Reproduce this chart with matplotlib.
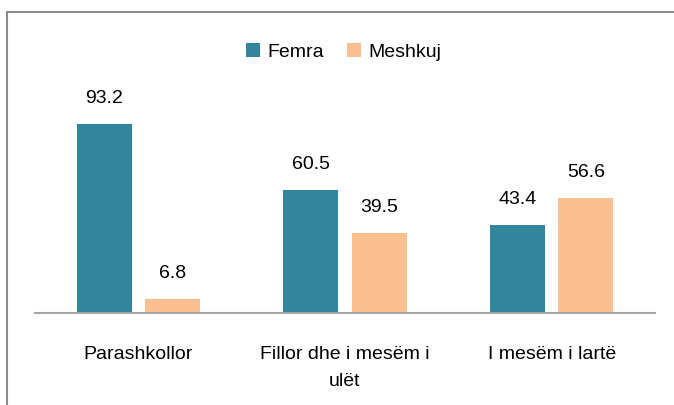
import numpy as np
import matplotlib
matplotlib.use('Agg')
import matplotlib.pyplot as plt
from matplotlib.lines import Line2D

plt.rcParams['font.family'] = ['Liberation Sans', 'DejaVu Sans']

categories = ['Parashkollor', 'Fillor dhe i mesëm i\nulët', 'I mesëm i lartë']
femra = [93.2, 60.5, 43.4]
meshkuj = [6.8, 39.5, 56.6]

C_F = '#31859C'
C_M = '#FAC090'

fig = plt.figure(figsize=(6.74, 4.05), dpi=100)
ax = fig.add_axes([35 / 674, 1 - 313 / 405, 620 / 674, 203 / 405])

x = np.arange(len(categories))
w = 0.266
b1 = ax.bar(x - 0.165, femra, w, color=C_F, label='Femra')
b2 = ax.bar(x + 0.165, meshkuj, w, color=C_M, label='Meshkuj')
for bars in (b1, b2):
    for bar in bars:
        ax.text(bar.get_x() + bar.get_width() / 2, bar.get_height() + 8.5,
                f'{bar.get_height():.1f}', ha='center', va='bottom', fontsize=14)

ax.set_xlim(-0.5, 2.5)
ax.set_ylim(0, 100)
ax.set_yticks([])
ax.set_xticks(x)
ax.set_xticklabels(categories, fontsize=14, linespacing=1.75)
ax.tick_params(axis='x', length=0, pad=24)
for s in ('top', 'right', 'left'):
    ax.spines[s].set_visible(False)
ax.spines['bottom'].set_color('#A6A6A6')
ax.spines['bottom'].set_linewidth(1.5)

fig.legend(loc='center', bbox_to_anchor=(344 / 674, 1 - 52 / 405), ncol=2,
           frameon=False, fontsize=14, handlelength=0.7, handleheight=0.7,
           columnspacing=1.2, handletextpad=0.4)

# chart border (left and top edges visible)
fig.add_artist(Line2D([7 / 674, 7 / 674], [0, 1 - 12 / 405], color='#8C8C8C', lw=1.5,
                      transform=fig.transFigure))
fig.add_artist(Line2D([7 / 674, 1], [1 - 12 / 405, 1 - 12 / 405], color='#8C8C8C', lw=1.5,
                      transform=fig.transFigure))

fig.savefig('out.png', dpi=100)
